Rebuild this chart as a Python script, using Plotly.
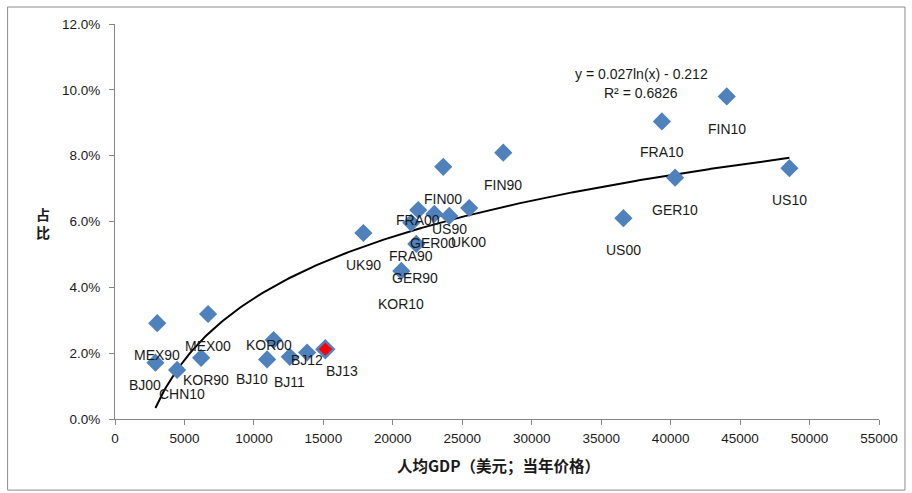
import numpy as np
import plotly.graph_objects as go

# ---- data ----
labels = ["MEX90", "MEX00", "BJ00", "CHN10", "KOR90", "KOR00", "BJ10", "BJ11", "BJ12", "BJ13",
          "UK90", "KOR10", "GER90", "FRA90", "FRA00", "GER00", "US90", "UK00", "FIN00", "FIN90",
          "US00", "FRA10", "GER10", "FIN10", "US10"]
gdp_per_capita = [3040, 6700, 2910, 4470, 6200, 11420, 10950, 12580, 13830, 15140,
                  17880, 20610, 21690, 21330, 21830, 22990, 24060, 25500, 23630, 27950,
                  36600, 39370, 40320, 44040, 48550]
share = [0.0291, 0.0319, 0.0171, 0.0149, 0.0186, 0.0240, 0.0181, 0.0189, 0.0202, 0.0212,
         0.0565, 0.0450, 0.0532, 0.0596, 0.0635, 0.0623, 0.0617, 0.0641, 0.0766, 0.0809,
         0.0610, 0.0904, 0.0733, 0.0980, 0.0762]
highlight = "BJ13"
fit_a, fit_b = 0.027, -0.212          # y = a*ln(x) + b
fit_text = ["y = 0.027ln(x) - 0.212", "R² = 0.6826"]
x_ticks = list(range(0, 55001, 5000))
y_ticks = [0.0, 0.02, 0.04, 0.06, 0.08, 0.10, 0.12]

# label offsets in pixels (dx, dy downward) — layout only
label_offsets = {
    "MEX90": (0, 32), "MEX00": (0, 32), "BJ00": (-10, 22), "CHN10": (5, 24), "KOR90": (5, 22),
    "KOR00": (-5, 5), "BJ10": (-15, 20), "BJ11": (0, 25), "BJ12": (0, 7), "BJ13": (17, 22),
    "UK90": (0, 32), "KOR10": (0, 33), "GER90": (-1, 34), "FRA90": (0, 33), "FRA00": (0, 10),
    "GER00": (-1, 29), "US90": (0, 13), "UK00": (-1, 34), "FIN00": (0, 32), "FIN90": (0, 32),
    "US00": (0, 32), "FRA10": (0, 31), "GER10": (0, 32), "FIN10": (0, 33), "US10": (0, 32),
}

BLUE = "#4F81BD"
TXT = "#1a1a1a"
FONT = "Liberation Sans"

colors = ["#FF0000" if l == highlight else BLUE for l in labels]
sizes = [13 if l == highlight else 14 for l in labels]
lws = [2.5 if l == highlight else 0 for l in labels]

fig = go.Figure()

x_fit = np.linspace(min(gdp_per_capita), max(gdp_per_capita), 300)
y_fit = fit_a * np.log(x_fit) + fit_b
fig.add_trace(go.Scatter(x=x_fit, y=y_fit, mode="lines",
                         line=dict(color="black", width=2), hoverinfo="skip", showlegend=False))

fig.add_trace(go.Scatter(x=gdp_per_capita, y=share, mode="markers", text=labels,
                         marker=dict(symbol="diamond", size=sizes, color=colors, opacity=1,
                                     line=dict(color=BLUE, width=lws)),
                         showlegend=False))

annotations = []
for l, x, y in zip(labels, gdp_per_capita, share):
    dx, dy = label_offsets[l]
    annotations.append(dict(x=x, y=y, xref="x", yref="y", text=l, showarrow=False,
                            xanchor="center", yanchor="middle",
                            xshift=dx, yshift=-dy, font=dict(family=FONT, size=14, color=TXT)))

# equation text
annotations.append(dict(x=0.6887, y=0.8734, xref="paper", yref="paper", text=fit_text[0],
                        xanchor="center", yanchor="middle",
                        showarrow=False, font=dict(family=FONT, size=14, color=TXT)))
annotations.append(dict(x=0.6887, y=0.8253, xref="paper", yref="paper", text=fit_text[1],
                        xanchor="center", yanchor="middle",
                        showarrow=False, font=dict(family=FONT, size=14, color=TXT)))
# y-axis title (stacked characters)
annotations.append(dict(x=-0.094, y=0.497, xref="paper", yref="paper", text="<b>占<br>比</b>",
                        xanchor="center", yanchor="middle",
                        showarrow=False, font=dict(family="Noto Sans CJK SC", size=14, color=TXT)))
# x-axis title
annotations.append(dict(x=0.502, y=-0.116, xref="paper", yref="paper",
                        text="<b>人均GDP（美元；当年价格）</b>", showarrow=False,
                        xanchor="center", yanchor="middle",
                        font=dict(family="Noto Sans CJK SC", size=15.5, color=TXT)))

fig.update_layout(
    width=912, height=493,
    margin=dict(l=114.5, r=33, t=24, b=74),
    paper_bgcolor="white", plot_bgcolor="white",
    annotations=annotations,
    shapes=[dict(type="rect", xref="paper", yref="paper", x0=-0.1406, x1=1.034, y0=-0.18, y1=1.043,
                 line=dict(color="#8c8c8c", width=1), fillcolor="rgba(0,0,0,0)", layer="below")],
    xaxis=dict(range=[0, 55000], tickvals=x_ticks, tickformat="d", showgrid=False, zeroline=False,
               showline=True, linecolor="#868686", linewidth=1, ticks="outside", ticklen=5,
               tickcolor="#868686", ticklabelstandoff=2,
               tickfont=dict(family=FONT, size=13.5, color=TXT)),
    yaxis=dict(range=[0, 0.12], tickvals=y_ticks, tickformat=".1%", showgrid=False, zeroline=False,
               showline=True, linecolor="#868686", linewidth=1, ticks="outside", ticklen=5,
               tickcolor="#868686", ticklabelstandoff=6,
               tickfont=dict(family=FONT, size=13.5, color=TXT)),
)

fig.write_html("out.html", config={"displayModeBar": False},
               post_script="document.body.style.margin='0';document.body.style.overflow='hidden';")
